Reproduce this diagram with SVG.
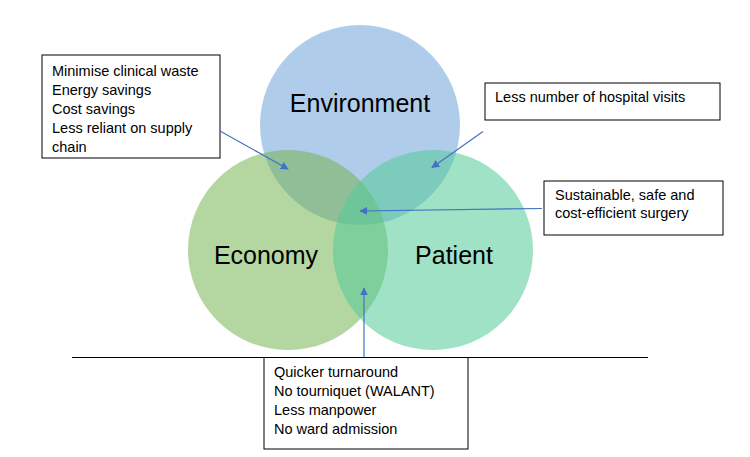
<svg xmlns="http://www.w3.org/2000/svg" width="750" height="457" viewBox="0 0 750 457">
<defs>
<style>
.lbl{font-family:"Liberation Sans",Arial,sans-serif;font-size:25px;fill:#000;text-anchor:middle}
.txt{font-family:"Liberation Sans",Arial,sans-serif;font-size:14.5px;fill:#000}
.box{fill:#fff;stroke:#000;stroke-width:1}
.con{stroke:#4472C4;stroke-width:1.2;fill:none;marker-end:url(#ah)}
</style>
<marker id="ah" viewBox="0 0 10 10" refX="9" refY="5" markerWidth="8" markerHeight="8" orient="auto" markerUnits="userSpaceOnUse">
<path d="M0,0 L10,5 L0,10 z" fill="#4472C4"/>
</marker>
</defs>
<rect width="750" height="457" fill="#fff"/>
<g id="environment">
<circle cx="360" cy="125" r="100" fill="#6DA4D9" fill-opacity="0.55"/>
<text class="lbl" x="360" y="112">Environment</text>
</g>
<g id="economy">
<circle cx="288" cy="250" r="100" fill="#76B452" fill-opacity="0.55"/>
<text class="lbl" x="266" y="264">Economy</text>
</g>
<g id="patient">
<circle cx="433" cy="250" r="100" fill="#52CA97" fill-opacity="0.55"/>
<text class="lbl" x="454" y="264">Patient</text>
</g>
<line x1="72" y1="357.5" x2="648" y2="357.5" stroke="#000" stroke-width="1"/>
<g id="box-economy-env">
<rect class="box" x="42" y="55" width="178" height="103"/>
<text class="txt" x="52" y="76">Minimise clinical waste</text>
<text class="txt" x="52" y="95">Energy savings</text>
<text class="txt" x="52" y="114">Cost savings</text>
<text class="txt" x="52" y="133">Less reliant on supply</text>
<text class="txt" x="52" y="152">chain</text>
</g>
<g id="box-env-patient">
<rect class="box" x="485" y="83" width="235" height="37"/>
<text class="txt" x="495" y="102">Less number of hospital visits</text>
</g>
<g id="box-center">
<rect class="box" x="544" y="181" width="179" height="54"/>
<text class="txt" x="555" y="200">Sustainable, safe and</text>
<text class="txt" x="555" y="218">cost-efficient surgery</text>
</g>
<g id="box-economy-patient">
<rect class="box" x="264" y="357.5" width="204" height="91.5"/>
<text class="txt" x="274" y="377">Quicker turnaround</text>
<text class="txt" x="274" y="396">No tourniquet (WALANT)</text>
<text class="txt" x="274" y="415">Less manpower</text>
<text class="txt" x="274" y="434">No ward admission</text>
</g>
<g id="connectors">
<line class="con" x1="220" y1="131" x2="288" y2="169"/>
<line class="con" x1="483" y1="131.5" x2="432" y2="167.5"/>
<line class="con" x1="542" y1="208.5" x2="360" y2="211"/>
<line class="con" x1="364" y1="357" x2="364" y2="288"/>
</g>
</svg>
